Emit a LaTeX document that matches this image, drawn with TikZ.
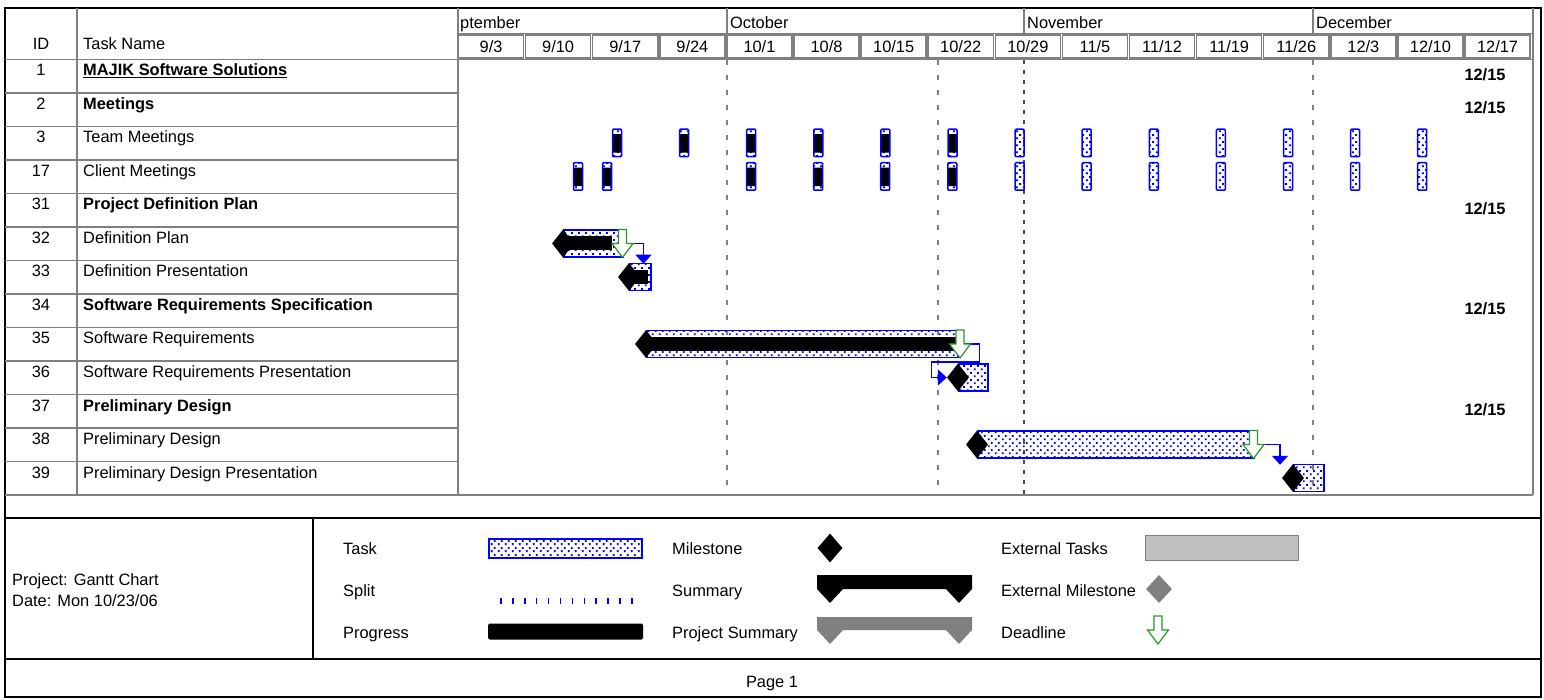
\documentclass[tikz,border=0pt]{standalone}
\usepackage{fontspec}
\setmainfont{Liberation Sans}
\usetikzlibrary{positioning,patterns,arrows.meta,calc,shapes.geometric}

\definecolor{barblue}{RGB}{0,0,255}
\definecolor{deadgreen}{RGB}{40,150,40}
\definecolor{linegray}{RGB}{128,128,128}
\definecolor{extgray}{RGB}{192,192,192}

\pgfdeclarepatternformonly{bardots}{\pgfpointorigin}{\pgfpoint{7pt}{7pt}}{\pgfpoint{7pt}{7pt}}{%
  \pgfpathrectangle{\pgfpoint{1pt}{1pt}}{\pgfpoint{2pt}{2pt}}%
  \pgfpathrectangle{\pgfpoint{4.5pt}{4.5pt}}{\pgfpoint{2pt}{2pt}}%
  \pgfusepath{fill}}

\tikzstyle{taskbar}=[draw=barblue,line width=1.5pt,pattern=bardots,pattern color=barblue,minimum height=27pt,inner sep=0pt,anchor=west]
\tikzstyle{progbar}=[fill=black,minimum height=14pt,inner sep=0pt,anchor=west]
\tikzstyle{startdiamond}=[diamond,fill=black,minimum width=22pt,minimum height=28pt,inner sep=0pt]
\tikzstyle{meetbar}=[draw=barblue,line width=1.5pt,pattern=bardots,pattern color=barblue,minimum width=9pt,minimum height=27.5pt,inner sep=0pt,rounded corners=1pt]
\tikzstyle{meetdone}=[meetbar,path picture={\fill[black] ([yshift=-5pt]path picture bounding box.north west) rectangle ([yshift=4pt]path picture bounding box.south east);}]
\tikzstyle{link}=[draw=barblue,line width=1.5pt,-{Triangle[width=16pt,length=9pt]}]
\tikzstyle{rowline}=[draw=linegray,line width=1.5pt]
\tikzstyle{weekcell}=[draw=linegray,line width=1.5pt]
\tikzstyle{todayline}=[draw=linegray,line width=1.2pt,dash pattern=on 5pt off 10pt]
\tikzstyle{idtext}=[anchor=base,inner sep=0pt]
\tikzstyle{nametext}=[anchor=base west,inner sep=0pt]
\tikzstyle{boldname}=[nametext,font=\fontsize{16.4}{19}\selectfont\bfseries]
\tikzstyle{endtext}=[anchor=base,inner sep=0pt,font=\fontsize{16.4}{19}\selectfont\bfseries]

\tikzset{deadline/.pic={\draw[deadgreen,line width=1.2pt,fill=white] (-4,0) -- (4,0) -- (4,14) -- (10.5,14) -- (0,28) -- (-10.5,14) -- (-4,14) -- cycle;}}

\begin{document}
\begin{tikzpicture}[x=1pt,y=-1pt,font=\fontsize{16.4}{19}\selectfont]
    \useasboundingbox (0,0) rectangle (1544,700);
    % First we draw the frame and the table grid
    \draw[line width=2pt] (5,8.5) rectangle (1540.5,697);
    \foreach \i in {0,...,12}
        \draw[rowline] (5,59.5+33.5*\i) -- (458,59.5+33.5*\i);
    \draw[rowline] (5,495) -- (1533,495);
    \draw[rowline] (458,59.5) -- (1533,59.5);
    \draw[rowline] (458,33.5) -- (1533,33.5);
    \draw[rowline] (77,8.5) -- (77,495);
    \draw[rowline] (458,8.5) -- (458,495);
    \draw[rowline] (1533,8.5) -- (1533,495);
    \foreach \x in {727,1024,1313}
        \draw[rowline] (\x,8.5) -- (\x,33.5);

    % Header: months and weeks
    \node[idtext] (idhead) at (41,50) {ID};
    \node[nametext] (namehead) at (83,50) {Task Name};
    \foreach \pos/\name/\label in {{(460,28.5)/sep/ptember}, {(730,28.5)/oct/October}, {(1027,28.5)/nov/November}, {(1316,28.5)/dec/December}}
        \node[nametext] (\name) at \pos {\label};
    \foreach \mo/\dy [count=\k from 0] in {9/3,9/10,9/17,9/24,10/1,10/8,10/15,10/22,10/29,11/5,11/12,11/19,11/26,12/3,12/10,12/17}{
        \draw[weekcell] (458.5+67.1*\k,35) rectangle (456.5+67.1*\k+67.1,58);
        \node[idtext] (wk\k) at (457.5+67.1*\k+33.55,52.5) {\mo/\dy};
    }

    % Gridlines over the chart
    \foreach \x in {727,938,1313}
        \draw[todayline] (\x,60) -- (\x,495);
    \draw[draw=black!70,line width=1.5pt,dash pattern=on 4pt off 6pt] (1024,60) -- (1024,495);

    % Task list
    \node[idtext] (id0) at (41,76) {1};
    \node[boldname] (name0) at (83,76) {\underline{MAJIK Software Solutions}};
    \node[endtext] (end0) at (1485,80.5) {12/15};
    \foreach \i/\id/\name in {1/2/Meetings, 4/31/Project Definition Plan, 7/34/Software Requirements Specification, 10/37/Preliminary Design}{
        \node[idtext] (id\i) at (41,76+33.5*\i) {\id};
        \node[boldname] (name\i) at (83,76+33.5*\i) {\name};
        \node[endtext] (end\i) at (1485,80.5+33.5*\i) {12/15};
    }
    \foreach \i/\id/\name in {2/3/Team Meetings, 3/17/Client Meetings, 5/32/Definition Plan, 6/33/Definition Presentation, 8/35/Software Requirements, 9/36/Software Requirements Presentation, 11/38/Preliminary Design, 12/39/Preliminary Design Presentation}{
        \node[idtext] (id\i) at (41,76+33.5*\i) {\id};
        \node[nametext] (name\i) at (83,76+33.5*\i) {\name};
    }

    % Meetings, one a week
    \foreach \k in {0,...,5}
        \node[meetdone] (team\k) at (617+67.1*\k,143) {};
    \foreach \k in {6,...,12}
        \node[meetbar] (team\k) at (617+67.1*\k,143) {};
    \foreach \pos/\name in {{(578,176.5)/cl0}, {(607,176.5)/cl1}, {(751,176.5)/cl2}, {(818.1,176.5)/cl3}, {(885.2,176.5)/cl4}, {(952.3,176.5)/cl5}}
        \node[meetdone] (\name) at \pos {};
    \foreach \k in {6,...,12}
        \node[meetbar] (cl\k) at (617+67.1*\k,176.5) {};

    % Task bars with progress and start marks
    \node[taskbar,minimum width=59pt] (defplan) at (563,243.5) {};
    \node[progbar,minimum width=49pt] (defplanprog) at (563,243.5) {};
    \node[startdiamond] (defplanstart) at (563,243.5) {};
    \node[taskbar,minimum width=21pt] (defpres) at (629,277) {};
    \node[progbar,minimum width=19pt] (defpresprog) at (629,277) {};
    \node[startdiamond] (defpresstart) at (629,277) {};
    \node[taskbar,minimum width=311pt] (softreq) at (646,344) {};
    \node[progbar,minimum width=311pt] (softreqprog) at (646,344) {};
    \node[startdiamond] (softreqstart) at (646,344) {};
    \node[taskbar,minimum width=29pt] (srpres) at (958,377.5) {};
    \node[startdiamond] (srpresstart) at (958,377.5) {};
    \node[taskbar,minimum width=276pt] (prelim) at (977,444.5) {};
    \node[startdiamond] (prelimstart) at (977,444.5) {};
    \node[taskbar,minimum width=30pt] (pdpres) at (1293,478) {};
    \node[startdiamond] (pdpresstart) at (1293,478) {};

    % Links between tasks
    \draw[link] (defplan.east) -| ($(defpres.north east)+(-8,1)$);
    \draw[link] (softreq.east) -- ++(21,0) -- ++(0,18) -- ++(-48,0) |- (srpresstart.west);
    \draw[link] (prelim.east) -| ($(pdpres.north west)+(-13,1)$);

    % Deadlines
    \pic at (622.5,229.5) {deadline};
    \pic at (960,330) {deadline};
    \pic at (1253.5,430.5) {deadline};

    % Legend
    \draw[line width=2pt] (5,518) -- (1540.5,518);
    \draw[line width=2pt] (5,659) -- (1540.5,659);
    \draw[line width=1.5pt] (313,518) -- (313,659);
    \node[nametext] (proj) at (12,585) {Project: Gantt Chart};
    \node[nametext] (date) at (12,606) {Date: Mon 10/23/06};

    \foreach \pos/\name/\label in {{(343,554)/lgtask/Task}, {(343,596)/lgsplit/Split}, {(343,638)/lgprog/Progress}, {(672,554)/lgmile/Milestone}, {(672,596)/lgsum/Summary}, {(672,638)/lgproj/Project Summary}, {(1001,554)/lgext/External Tasks}, {(1001,596)/lgextmile/External Milestone}, {(1001,638)/lgdead/Deadline}}
        \node[nametext] (\name) at \pos {\label};

    \node[taskbar,minimum width=153pt,minimum height=19pt] (lgtaskbar) at (488,548.5) {};
    \foreach \k in {0,...,11}
        \draw[barblue,line width=1.5pt] (501+11.9*\k,598) -- ++(0,6);
    \node[progbar,minimum width=155pt,minimum height=16pt,rounded corners=1.5pt] (lgprogbar) at (488,631.5) {};
    \node[startdiamond,minimum width=25pt,minimum height=29pt] (lgmilemark) at (830,548) {};
    \fill[black] (817,575) -- (972,575) -- (972,589) -- (959,603) -- (946,589) -- (843,589) -- (830,603) -- (817,589) -- cycle;
    \fill[linegray] (817,617) -- (972,617) -- (972,630) -- (959,644) -- (946,630) -- (843,630) -- (830,644) -- (817,630) -- cycle;
    \node[draw=linegray,fill=extgray,line width=1.2pt,minimum width=153pt,minimum height=25pt,inner sep=0pt,anchor=west] (lgextbar) at (1145,548) {};
    \node[diamond,fill=linegray,minimum width=26pt,minimum height=28pt,inner sep=0pt] (lgextmark) at (1159,589) {};
    \pic at (1158,616) {deadline};

    \node[idtext] (page) at (772,687) {Page 1};
\end{tikzpicture}
\end{document}
